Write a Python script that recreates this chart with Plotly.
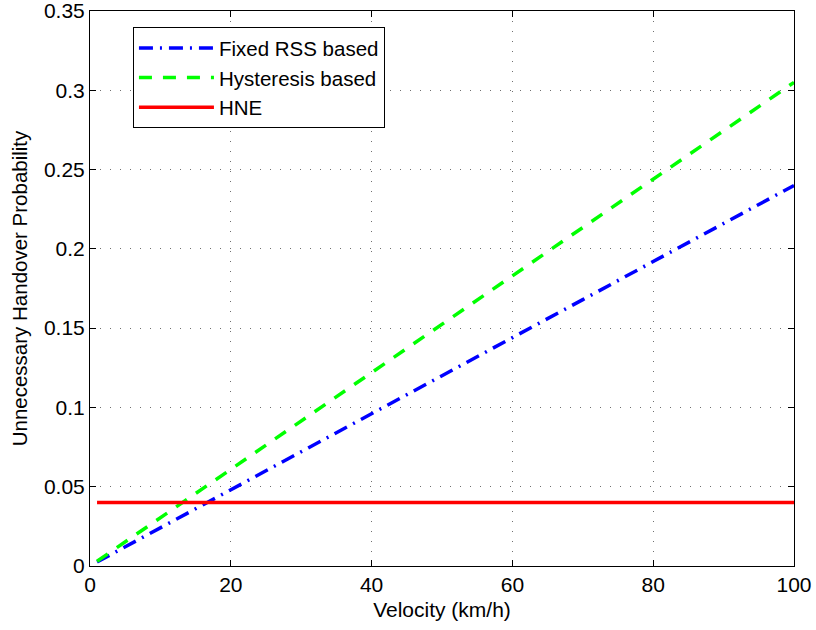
import plotly.graph_objects as go

velocity = [1, 10, 20, 30, 40, 50, 60, 70, 80, 90, 100]
fixed_rss = [0.0025, 0.024, 0.048, 0.072, 0.096, 0.12, 0.144, 0.168, 0.192, 0.216, 0.24]
hysteresis = [0.003, 0.0305, 0.061, 0.0915, 0.122, 0.1525, 0.183, 0.2135, 0.244, 0.2745, 0.305]
hne = [0.04] * len(velocity)

x_ticks = [0, 20, 40, 60, 80, 100]
y_ticks = [0, 0.05, 0.1, 0.15, 0.2, 0.25, 0.3, 0.35]

fig = go.Figure()
fig.add_trace(go.Scatter(x=velocity, y=fixed_rss, mode="lines", name="Fixed RSS based",
                         line=dict(color="#0000ff", width=3.5, dash="14px,7px,2px,7px")))
fig.add_trace(go.Scatter(x=velocity, y=hysteresis, mode="lines", name="Hysteresis based",
                         line=dict(color="#00ff00", width=3.5, dash="13px,11px")))
fig.add_trace(go.Scatter(x=velocity, y=hne, mode="lines", name="HNE",
                         line=dict(color="#ff0000", width=3.5)))

axis_common = dict(showline=True, linecolor="black", linewidth=1, mirror="ticks",
                   ticks="inside", ticklen=6, tickcolor="black", automargin=False,
                   ticklabeloverflow="allow",
                   showgrid=True, gridcolor="#707070", griddash="1px,9px", gridwidth=1,
                   zeroline=False, tickfont=dict(size=21, color="black"))

fig.update_layout(
    width=816, height=630,
    margin=dict(l=90, r=22, t=11, b=64),
    plot_bgcolor="white", paper_bgcolor="white",
    font=dict(family="Liberation Sans, Arial, sans-serif", color="black"),
    xaxis=dict(range=[0, 100], tickvals=x_ticks,
               title=dict(text="Velocity (km/h)", font=dict(size=21), standoff=7),
               **axis_common),
    yaxis=dict(range=[0, 0.35], tickvals=y_ticks,
               title=dict(text="Unnecessary Handover Probability", font=dict(size=20.5), standoff=10),
               **axis_common),
    legend=dict(x=0.061, y=0.971, xanchor="left", yanchor="top",
                bgcolor="white", bordercolor="black", borderwidth=1,
                font=dict(size=20.5), tracegroupgap=0, itemwidth=75),
    showlegend=True,
)

fig.write_html("out.html", config={"displayModeBar": False},
               post_script="document.body.style.margin='0';document.body.style.overflow='hidden';")
